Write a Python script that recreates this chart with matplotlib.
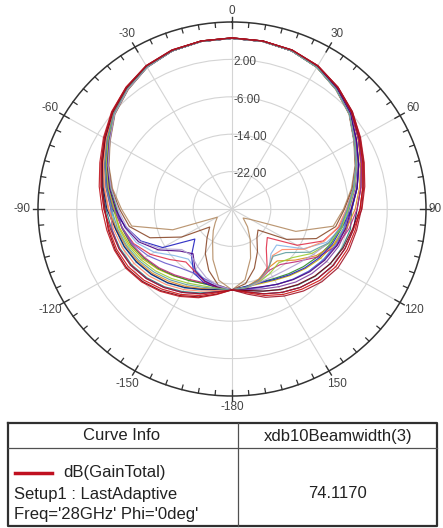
import numpy as np
import matplotlib
matplotlib.use("Agg")
import matplotlib.pyplot as plt

plt.rcParams['font.family'] = ['Liberation Sans', 'DejaVu Sans']

# angle grid of the sampled patterns (deg), -180 .. 180
theta_deg = list(range(-180, 181, 10))

# dB(GainTotal), one row per swept curve
curve_colors = ['#1f7f7f', '#c8a800', '#3fb4d8', '#88b8e8', '#2a8a2a', '#8040a0',
                '#e08a1e', '#101060', '#c02878', '#b48c64', '#8b4a2b', '#2020c0',
                '#e0304a', '#6a5acd', '#ff8c69', '#4b0082', '#9acd32', '#b0a0d0',
                '#5f9ea0', '#7a0010', '#d01010', '#c0141e', '#a01428']
gain_db = [
    [-12.7, -12.1, -10.9, -9.6, -8.3, -7.1, -6.1, -5.4, -4.8, -4.0, -2.8, -1.4, 0.3, 2.2, 3.9, 5.3, 6.1, 6.5,
     6.6, 6.4, 6.0, 5.1, 3.6, 1.8, -0.4, -2.2, -3.8, -5.3, -5.2, -5.8, -6.6, -7.6, -8.8, -10.1, -11.3, -12.3, -12.7],
    [-12.7, -13.1, -13.0, -12.4, -11.3, -10.0, -8.7, -7.5, -6.5, -5.5, -3.9, -2.3, -0.4, 1.8, 3.6, 5.1, 6.0, 6.4,
     6.5, 6.4, 6.0, 5.1, 3.6, 1.8, -0.5, -2.3, -3.9, -5.5, -6.6, -7.7, -8.9, -10.2, -11.4, -12.4, -13.0, -13.1, -12.7],
    [-12.7, -12.4, -11.6, -10.5, -9.3, -8.2, -7.2, -6.3, -5.6, -5.1, -3.7, -2.1, -0.3, 1.8, 3.6, 5.1, 6.0, 6.4,
     6.5, 6.4, 6.0, 5.0, 3.4, 1.6, -0.9, -2.8, -4.6, -6.0, -6.6, -7.4, -8.3, -9.3, -10.4, -11.4, -12.2, -12.6, -12.7],
    [-12.7, -13.0, -13.8, -15.0, -16.0, -14.5, -11.5, -9.0, -7.5, -6.3, -4.6, -2.8, -0.9, 1.6, 3.4, 5.0, 6.0, 6.4,
     6.5, 6.4, 6.0, 5.1, 3.6, 1.8, -0.4, -2.2, -3.8, -5.3, -7.0, -9.2, -13.0, -18.0, -17.5, -14.8, -13.4, -12.8, -12.7],
    [-12.7, -13.0, -13.0, -12.3, -11.4, -10.2, -9.0, -7.8, -6.9, -6.2, -4.5, -2.7, -0.8, 1.6, 3.4, 5.0, 6.0, 6.4,
     6.5, 6.4, 6.0, 5.0, 3.4, 1.6, -0.9, -2.8, -4.6, -6.2, -7.2, -8.3, -9.6, -10.8, -11.9, -12.8, -13.3, -13.2, -12.7],
    [-12.7, -12.0, -10.7, -9.4, -8.1, -6.9, -5.9, -5.2, -4.9, -5.0, -3.6, -2.0, -0.2, 1.9, 3.6, 5.1, 6.0, 6.4,
     6.5, 6.4, 6.0, 5.1, 3.6, 1.8, -0.4, -2.2, -3.8, -5.3, -5.9, -6.6, -7.5, -8.5, -9.6, -10.8, -11.8, -12.5, -12.7],
    [-12.7, -12.6, -11.9, -10.9, -9.8, -8.6, -7.6, -6.7, -5.8, -4.5, -3.2, -1.8, 0.0, 2.0, 3.7, 5.2, 6.1, 6.5,
     6.6, 6.5, 6.1, 5.3, 3.8, 2.1, 0.0, -1.8, -3.3, -4.6, -6.0, -7.6, -10.0, -13.0, -15.5, -15.3, -14.0, -13.1, -12.7],
    [-12.7, -12.5, -11.7, -10.6, -9.4, -8.3, -7.3, -6.4, -5.6, -4.2, -3.0, -1.6, 0.1, 2.1, 3.8, 5.3, 6.1, 6.5,
     6.6, 6.5, 6.1, 5.3, 3.8, 2.1, 0.1, -1.6, -3.0, -4.2, -4.6, -5.2, -5.9, -6.9, -8.1, -9.4, -10.7, -12.0, -12.7],
    [-12.7, -13.2, -13.2, -12.6, -11.6, -10.4, -9.2, -8.0, -7.0, -5.6, -4.0, -2.4, -0.5, 1.7, 3.5, 5.1, 6.0, 6.4,
     6.5, 6.5, 6.1, 5.3, 3.8, 2.1, 0.1, -1.6, -3.0, -4.2, -5.5, -7.0, -9.5, -12.5, -14.5, -14.8, -13.8, -13.0, -12.7],
    [-12.7, -14.5, -18.5, -22.0, -24.0, -25.5, -26.5, -17.0, -9.0, -7.2, -5.0, -3.0, -1.0, 1.5, 3.3, 5.0, 6.0, 6.4,
     6.5, 6.4, 6.0, 5.0, 3.3, 1.5, -1.0, -3.0, -5.0, -7.0, -8.8, -16.0, -25.5, -27.0, -25.0, -22.5, -18.8, -14.6, -12.7],
    [-12.7, -13.5, -16.0, -19.0, -22.0, -24.0, -18.0, -12.0, -8.5, -6.8, -4.8, -2.9, -0.9, 1.6, 3.4, 5.0, 6.0, 6.4,
     6.5, 6.4, 6.0, 5.0, 3.4, 1.6, -0.9, -2.9, -4.8, -6.8, -8.3, -11.5, -17.0, -23.0, -22.0, -19.5, -16.5, -13.8, -12.7],
    [-12.7, -12.8, -13.2, -14.2, -17.0, -20.0, -13.5, -10.0, -7.8, -5.3, -3.8, -2.2, -0.4, 1.8, 3.6, 5.1, 6.0, 6.4,
     6.5, 6.4, 6.0, 5.1, 3.6, 1.8, -0.4, -2.2, -3.8, -5.3, -7.0, -8.0, -9.2, -10.4, -11.6, -12.6, -13.2, -13.2, -12.7],
    [-12.7, -12.9, -13.5, -14.6, -15.2, -13.2, -10.6, -8.4, -7.0, -5.8, -4.2, -2.5, -0.6, 1.7, 3.5, 5.1, 6.0, 6.4,
     6.5, 6.4, 6.0, 5.0, 3.4, 1.6, -0.9, -2.8, -4.6, -6.3, -7.6, -10.0, -14.5, -20.5, -19.0, -15.5, -13.6, -12.9, -12.7],
    [-12.7, -13.4, -14.0, -14.2, -13.5, -12.0, -10.0, -8.2, -7.0, -5.9, -4.3, -2.6, -0.7, 1.7, 3.5, 5.1, 6.0, 6.4,
     6.5, 6.4, 6.0, 5.1, 3.5, 1.7, -0.6, -2.5, -4.2, -5.8, -6.4, -7.2, -8.2, -9.3, -10.4, -11.4, -12.2, -12.6, -12.7],
    [-12.7, -12.3, -11.3, -10.1, -8.9, -7.7, -6.7, -5.9, -5.2, -4.6, -3.3, -1.8, 0.0, 2.0, 3.7, 5.2, 6.1, 6.5,
     6.6, 6.4, 6.0, 5.0, 3.4, 1.6, -0.9, -2.8, -4.6, -6.4, -7.8, -9.8, -12.8, -16.5, -17.0, -15.0, -13.6, -12.9, -12.7],
    [-12.7, -13.0, -13.6, -14.8, -17.5, -16.0, -12.5, -9.5, -7.6, -6.0, -4.3, -2.6, -0.7, 1.7, 3.5, 5.1, 6.0, 6.4,
     6.5, 6.4, 6.0, 5.1, 3.6, 1.8, -0.4, -2.2, -3.8, -5.4, -6.2, -7.0, -8.0, -9.1, -10.3, -11.4, -12.3, -12.7, -12.7],
    [-12.7, -12.8, -12.5, -11.7, -10.6, -9.4, -8.3, -7.2, -6.3, -5.7, -4.1, -2.4, -0.5, 1.7, 3.5, 5.1, 6.0, 6.4,
     6.5, 6.4, 6.0, 5.0, 3.4, 1.6, -0.8, -2.7, -4.4, -6.0, -7.0, -8.6, -11.0, -13.8, -15.0, -14.2, -13.4, -12.9, -12.7],
    [-12.7, -13.3, -14.4, -15.8, -17.0, -16.5, -13.0, -9.8, -7.9, -6.5, -4.7, -2.8, -0.9, 1.6, 3.4, 5.0, 6.0, 6.4,
     6.5, 6.4, 6.0, 5.0, 3.4, 1.6, -0.9, -2.8, -4.6, -6.3, -7.4, -8.8, -10.6, -12.0, -12.9, -13.3, -13.3, -13.0, -12.7],
    [-12.7, -12.7, -12.2, -11.3, -10.2, -9.0, -7.9, -6.9, -6.0, -5.2, -3.7, -2.1, -0.3, 1.8, 3.6, 5.1, 6.0, 6.4,
     6.5, 6.4, 6.0, 5.0, 3.4, 1.6, -0.9, -2.8, -4.6, -6.2, -7.3, -8.8, -11.5, -15.5, -16.8, -15.2, -13.8, -13.0, -12.7],
    [-12.7, -11.5, -10.0, -8.6, -7.2, -5.9, -4.9, -4.4, -4.1, -3.8, -2.8, -1.5, 0.2, 2.1, 3.8, 5.3, 6.1, 6.5,
     6.6, 6.5, 6.2, 5.3, 3.9, 2.2, 0.3, -1.3, -2.6, -3.6, -4.8, -5.6, -6.6, -7.7, -8.9, -10.1, -11.3, -12.3, -12.7],
    [-12.7, -11.8, -10.3, -8.9, -7.6, -6.3, -5.3, -4.7, -4.3, -3.6, -2.6, -1.3, 0.4, 2.3, 4.0, 5.4, 6.2, 6.5,
     6.6, 6.5, 6.2, 5.4, 4.0, 2.3, 0.4, -1.3, -2.6, -3.6, -4.2, -4.7, -5.3, -6.3, -7.6, -8.9, -10.3, -11.8, -12.7],
    [-12.7, -11.4, -9.8, -8.4, -7.0, -5.7, -4.7, -4.2, -3.8, -3.2, -2.2, -1.0, 0.6, 2.4, 4.0, 5.4, 6.2, 6.5,
     6.6, 6.5, 6.2, 5.4, 4.0, 2.4, 0.6, -1.0, -2.2, -3.2, -4.6, -5.2, -5.9, -6.9, -8.1, -9.4, -10.7, -12.0, -12.7],
    [-12.7, -12.0, -10.7, -9.4, -8.1, -6.9, -5.9, -5.2, -4.6, -3.6, -2.6, -1.3, 0.4, 2.2, 3.9, 5.4, 6.2, 6.5,
     6.6, 6.5, 6.2, 5.4, 4.0, 2.4, 0.5, -1.1, -2.4, -3.3, -3.9, -4.3, -4.8, -5.8, -7.1, -8.5, -9.9, -11.5, -12.7],
]

ring_values = [-22, -14, -6, 2]
angle_ticks = [0, 30, 60, 90, 120, 150, 180, 210, 240, 270, 300, 330]
angle_labels = ['0', '30', '60', '90', '120', '150', '-180', '-150', '-120', '-90', '-60', '-30']

table_header = ['Curve Info', 'xdb10Beamwidth(3)']
trace_name = 'dB(GainTotal)'
trace_lines = ['Setup1 : LastAdaptive', "Freq='28GHz' Phi='0deg'"]
beamwidth = '74.1170'

W, H = 443, 528
fig = plt.figure(figsize=(W / 100, H / 100), dpi=100)

# polar pattern (slightly wider than tall, like the screenshot)
ax = fig.add_axes([38 / W, 1 - 396 / H, 388 / W, 374 / H], projection='polar')
ax.set_theta_zero_location('N')
ax.set_theta_direction(-1)
ax.set_ylim(-30, 10)

th = np.deg2rad(theta_deg)
for g, c in zip(gain_db, curve_colors):
    ax.plot(th, g, color=c, lw=0.85, alpha=0.9)

ax.set_yticks(ring_values)
ax.set_yticklabels([])
ax.set_thetagrids(angle_ticks, [''] * len(angle_ticks))
ax.tick_params(axis='x', which='both', length=0)
ax.grid(True, color='#d4d4d4', lw=0.8)
ax.spines['polar'].set_color('#333333')
ax.spines['polar'].set_linewidth(1.1)
ax.set_aspect('auto')

# tick marks around the rim, every 5 deg; the 30 deg ones cross the rim
for a in range(0, 360, 5):
    t = np.deg2rad(a)
    if a % 30 == 0:
        ax.plot([t, t], [8.8, 11.0], color='#333333', lw=1.0, clip_on=False)
    else:
        ax.plot([t, t], [9.0, 10.0], color='#333333', lw=0.9, clip_on=False)

# angle labels just outside the rim (diagonal ones sit a bit further out)
for a, lab in zip(angle_ticks, angle_labels):
    if a in (0, 180):
        r_lab = 12.4
    elif a == 90:
        r_lab = 11.8  # keep it inside the right edge
    else:
        r_lab = 13.2
    ax.text(np.deg2rad(a), r_lab, lab, ha='center', va='center', fontsize=8.5,
            color='#444444', clip_on=False)

for r in ring_values:
    ax.annotate(f'{r:.2f}', xy=(0, r), xytext=(1, -2), textcoords='offset points',
                ha='left', va='center', fontsize=8.5, color='#444444')

# curve info table under the plot, drawn in pixel coordinates
tab = fig.add_axes([0, 0, 1, 1])
tab.set_xlim(0, W)
tab.set_ylim(H, 0)
tab.axis('off')
tab.plot([8, 437, 437, 8, 8], [423, 423, 526, 526, 423], color='#303030', lw=1.6)
tab.plot([8, 437], [448, 448], color='#505050', lw=0.9)
tab.plot([238, 238], [423, 526], color='#505050', lw=0.9)
tab.text(122, 436, table_header[0], ha='center', va='center', fontsize=12, color='#222222')
tab.text(338, 436, table_header[1], ha='center', va='center', fontsize=12, color='#222222')
tab.plot([15, 52], [473, 473], color='#c01020', lw=2.5)
tab.text(63, 473, trace_name, ha='left', va='center', fontsize=12, color='#222222')
tab.text(14, 494, trace_lines[0], ha='left', va='center', fontsize=12, color='#222222')
tab.text(14, 514, trace_lines[1], ha='left', va='center', fontsize=12, color='#222222')
tab.text(338, 494, beamwidth, ha='center', va='center', fontsize=12, color='#222222')

fig.savefig('out.png', dpi=100)
